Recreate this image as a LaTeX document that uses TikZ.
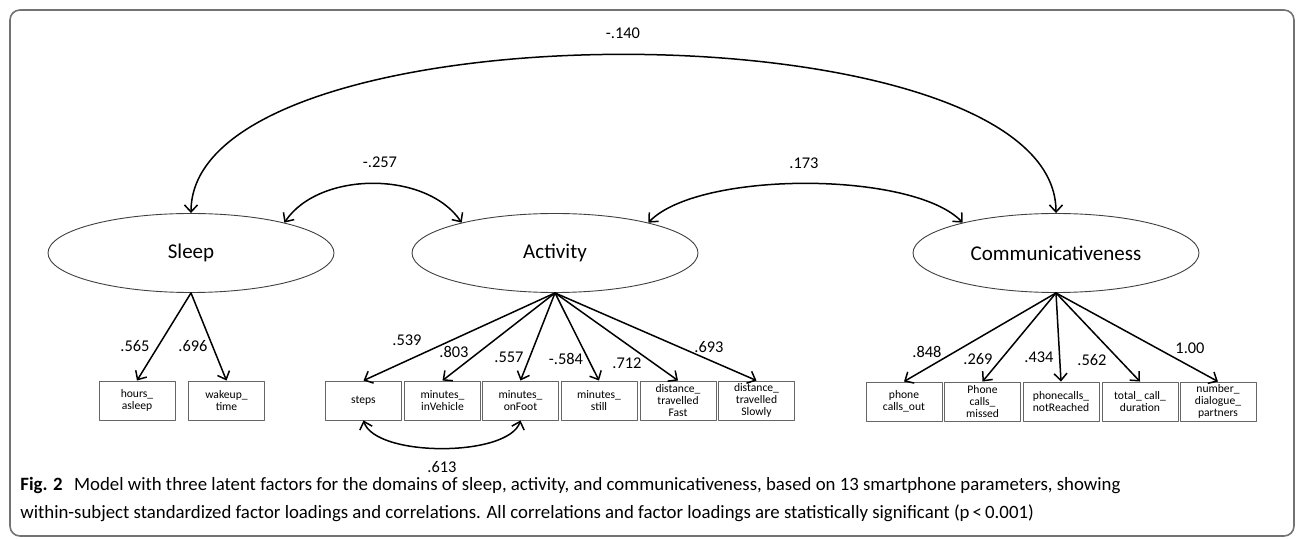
\documentclass[tikz,border=0pt]{standalone}
\usepackage{fontspec}
\setmainfont{Carlito}
\usetikzlibrary{shapes.geometric,arrows.meta}

\tikzset{
  latent/.style={ellipse, draw=black!75, line width=0.45pt, minimum width=143pt, minimum height=39.5pt, inner sep=0pt, font=\fontsize{10.5}{12}\selectfont},
  obs/.style={rectangle, draw=black!60, line width=0.45pt, minimum width=38pt, minimum height=19.5pt, inner sep=0pt, align=center, font=\fontsize{5.8}{6}\selectfont},
  load/.style={->, line width=0.75pt},
  corr/.style={<->, line width=0.75pt},
  lbl/.style={font=\fontsize{8.2}{9}\selectfont, inner sep=0pt},
}

\begin{document}
\begin{tikzpicture}[x=0.5pt, y=-0.5pt, >={Straight Barb[length=3.5pt,width=6.5pt]}, line join=round, line cap=round]
\useasboundingbox (0,0) rectangle (1296,539);
\draw[black!55, line width=0.8pt, rounded corners=5pt] (10,10) rectangle (1294,536);

% latent factors
\node[latent] (sleep) at (191,253) {Sleep};
\node[latent] (activity) at (555,253) {Activity};
\node[latent] (comm) at (1056,253) {Communicativeness};

% indicators
\foreach \n/\x/\t in {hours/137/{hours\_\\asleep}, wakeup/226.5/{wakeup\_\\time}}
  \node[obs] (\n) at (\x,400.5) {\t};
\foreach \n/\x/\t in {steps/363.5/{steps}, vehicle/442.5/{minutes\_\\inVehicle}, onfoot/520.5/{minutes\_\\onFoot},
    still/599/{minutes\_\\still}, fast/678/{distance\_\\travelled\\Fast}, slowly/756.5/{distance\_\\travelled\\Slowly}}
  \node[obs] (\n) at (\x,400.5) {\t};
\foreach \n/\x/\t in {callsout/904/{phone\\calls\_out}, missed/982.5/{Phone\\calls\_\\missed}, notreached/1061/{phonecalls\_\\notReached},
    duration/1140/{total\_ call\_\\duration}, partners/1218/{number\_\\dialogue\_\\partners}}
  \node[obs] (\n) at (\x,401.5) {\t};

% loadings
\foreach \b/\l/\lx/\ly in {hours/.565/135/346, wakeup/.696/193/346}{
  \draw[load] (sleep.south) -- (\b.north);
  \node[lbl] (l-\b) at (\lx,\ly) {\l};
}
\foreach \b/\l/\lx/\ly in {steps/.539/407/340, vehicle/.803/454/352, onfoot/.557/509/357,
    still/-.584/566/359, fast/.712/627/363, slowly/.693/709/347}{
  \draw[load] (activity.south) -- (\b.north);
  \node[lbl] (l-\b) at (\lx,\ly) {\l};
}
\foreach \b/\l/\lx/\ly in {callsout/.848/927/352, missed/.269/978/359, notreached/.434/1039/357,
    duration/.562/1092/360, partners/1.00/1190/348}{
  \draw[load] (comm.south) -- (\b.north);
  \node[lbl] (l-\b) at (\lx,\ly) {\l};
}

% correlations
\draw[corr] (sleep.north) .. controls +(0,-211) and +(0,-211) .. (comm.north);
\node[lbl] (r-sc) at (623,33) {-.140};
\draw[corr] (sleep.18) .. controls +(35,-52) and +(-35,-52) .. (activity.162);
\node[lbl] (r-sa) at (380,162) {-.257};
\draw[corr] (activity.18) .. controls +(50,-52) and +(-50,-52) .. (comm.162);
\node[lbl] (r-ac) at (804,163) {.173};
\draw[corr] (steps.south) .. controls +(12,37) and +(-12,37) .. (onfoot.south);
\node[lbl] (r-so) at (442,467) {.613};

% caption
\node[anchor=base west, align=left, inner sep=0pt, font=\fontsize{9.4}{13.5}\selectfont] (caption) at (20,518)
  {\textbf{Fig. 2}\hspace{0.6em}Model with three latent factors for the domains of sleep, activity, and communicativeness, based on 13 smartphone parameters, showing\\
   within-subject standardized factor loadings and correlations. All correlations and factor loadings are statistically significant (p\,<\,0.001)};
\end{tikzpicture}
\end{document}
